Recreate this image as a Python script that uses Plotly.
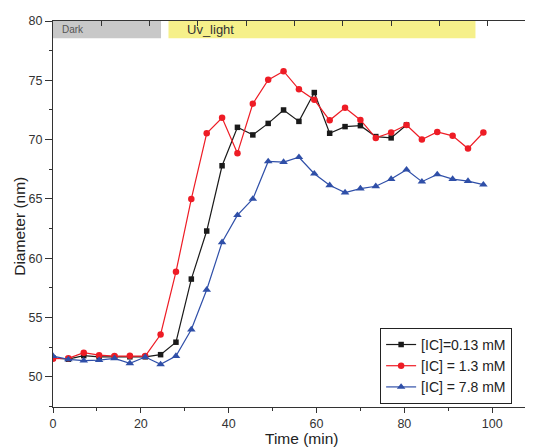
import plotly.graph_objects as go

# ---- data ----
time_min = [0, 3.5, 7, 10.5, 14, 17.5, 21, 24.5, 28, 31.5, 35, 38.5, 42, 45.5,
            49, 52.5, 56, 59.5, 63, 66.5, 70, 73.5, 77, 80.5, 84, 87.5, 91, 94.5, 98]

ic_013 = [51.6, 51.5, 51.8, 51.7, 51.7, 51.7, 51.7, 51.88, 52.93, 58.25, 62.30, 67.80,
          71.04, 70.40, 71.37, 72.50, 71.54, 73.97, 70.54, 71.10, 71.18, 70.26, 70.15, 71.24]
ic_13 = [51.54, 51.57, 52.05, 51.84, 51.76, 51.79, 51.76, 53.58, 58.86, 65.0, 70.54, 71.85,
         68.86, 73.03, 75.04, 75.77, 74.24, 73.36, 71.63, 72.69, 71.66, 70.15, 70.6, 71.24,
         70.01, 70.65, 70.32, 69.25, 70.6]
ic_78 = [51.76, 51.48, 51.37, 51.42, 51.57, 51.15, 51.68, 51.06, 51.76, 54.0, 57.35, 61.35,
         63.64, 65.0, 68.16, 68.11, 68.52, 67.13, 66.15, 65.54, 65.88, 66.07, 66.68, 67.47,
         66.46, 67.07, 66.68, 66.51, 66.21]

series_names = ["[IC]=0.13 mM", "[IC] = 1.3 mM", "[IC] = 7.8 mM"]
series_colors = ["#1a1a1a", "#ee1c25", "#2f4fa8"]
series_symbols = ["square", "circle", "triangle-up"]
series_sizes = [5.5, 6.5, 7.5]

# phase bands (x in minutes)
phase_labels = ["Dark", "Uv_light"]
phase_start = [0, 26.3]
phase_end = [24.6, 96.2]
phase_colors = ["#c8c8c8", "#f6f08a"]

FONT = "Liberation Sans, Arial, sans-serif"

fig = go.Figure()
for name, ys, col, sym, sz in zip(series_names, [ic_013, ic_13, ic_78],
                                  series_colors, series_symbols, series_sizes):
    fig.add_trace(go.Scatter(
        x=time_min[:len(ys)], y=ys, mode="lines+markers", name=name,
        line=dict(color=col, width=1.2),
        marker=dict(color=col, symbol=sym, size=sz),
    ))

# helper trace so the top/right frame axes are drawn
fig.add_trace(go.Scatter(x=[], y=[], xaxis="x2", yaxis="y2",
                         showlegend=False, hoverinfo="skip"))

for x0, x1, c in zip(phase_start, phase_end, phase_colors):
    fig.add_shape(type="rect", xref="x", yref="y", x0=x0, x1=x1, y0=78.55, y1=80,
                  fillcolor=c, line=dict(width=0), layer="below")

fig.add_annotation(x=1.6, y=79.25, xref="x", yref="y", text=phase_labels[0],
                   showarrow=False, xanchor="left", yanchor="middle",
                   font=dict(family=FONT, size=10, color="#555555"))
fig.add_annotation(x=30.0, y=79.3, xref="x", yref="y", text=phase_labels[1],
                   showarrow=False, xanchor="left", yanchor="middle",
                   font=dict(family=FONT, size=13, color="#333333"))

# axis titles as annotations for exact placement
fig.add_annotation(x=-0.0702, y=0.4677, xref="paper", yref="paper",
                   text="Diameter (nm)", textangle=-90, showarrow=False,
                   xanchor="center", yanchor="middle",
                   font=dict(family=FONT, size=15.5, color="#222222"))
fig.add_annotation(x=0.517, y=-0.0827, xref="paper", yref="paper",
                   text="Time (min)", showarrow=False,
                   xanchor="center", yanchor="middle",
                   font=dict(family=FONT, size=15.5, color="#222222"))

axis_col = "#333333"
# the page body has an 8px default margin, so the figure is 8px smaller
# and the left/top margins are reduced by 8px to land on the same pixels
fig.update_layout(
    width=525, height=440,
    margin=dict(l=45, r=0, t=13, b=40.5, pad=0),
    paper_bgcolor="white", plot_bgcolor="white",
    font=dict(family=FONT, size=12.5, color="#333333"),
    showlegend=True,
    legend=dict(x=0.6815, y=0.008, xanchor="left", yanchor="bottom",
                bgcolor="white", bordercolor="#222222", borderwidth=1,
                font=dict(family=FONT, size=14, color="#222222"),
                tracegroupgap=0, itemsizing="trace"),
    xaxis=dict(range=[0, 109.3], dtick=20, tick0=0, showgrid=False, zeroline=False,
               showline=True, linecolor=axis_col, linewidth=1,
               ticks="outside", ticklen=5, tickcolor=axis_col,
               minor=dict(dtick=10, ticks="outside", ticklen=3, tickcolor=axis_col),
               automargin=False, tickfont=dict(size=12.5, color="#333333")),
    yaxis=dict(range=[47.47, 80], dtick=5, tick0=50, showgrid=False, zeroline=False,
               showline=True, linecolor=axis_col, linewidth=1,
               ticks="outside", ticklen=7, tickcolor=axis_col,
               minor=dict(dtick=2.5, ticks="outside", ticklen=3, tickcolor=axis_col),
               automargin=False, tickfont=dict(size=12.5, color="#333333")),
    xaxis2=dict(overlaying="x", side="top", anchor="y2", range=[0, 99.4], dtick=10,
                showgrid=False, zeroline=False, showline=True, linecolor=axis_col,
                linewidth=1, ticks="inside", ticklen=5, tickcolor=axis_col,
                showticklabels=False, automargin=False),
    yaxis2=dict(overlaying="y", side="right", anchor="x2", range=[0, 1],
                tickvals=[0.2, 0.4, 0.6, 0.8], showgrid=False, zeroline=False,
                showline=False, ticks="inside", ticklen=5, tickcolor=axis_col,
                showticklabels=False, automargin=False),
)

fig.write_html("out.html")
